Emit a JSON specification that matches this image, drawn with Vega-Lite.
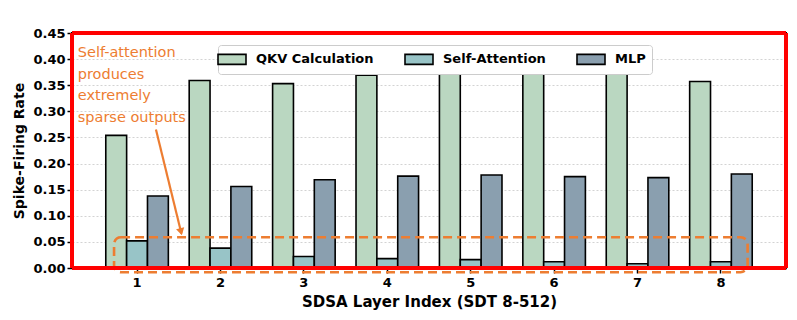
{
  "$schema": "https://vega.github.io/schema/vega-lite/v6.json",
  "width": 714,
  "height": 235,
  "autosize": {"type": "none"},
  "padding": {"left": 72, "top": 33, "right": 11, "bottom": 52},
  "background": "white",
  "config": {
    "font": "DejaVu Sans",
    "view": {"stroke": "black", "strokeWidth": 2},
    "axis": {
      "labelColor": "black",
      "labelFont": "DejaVu Sans",
      "labelFontWeight": "bold",
      "labelFontSize": 13,
      "titleFont": "DejaVu Sans",
      "titleFontWeight": "bold",
      "titleColor": "black",
      "tickColor": "black",
      "tickWidth": 1.5,
      "tickSize": 5,
      "domain": true,
      "domainColor": "black",
      "domainWidth": 2
    }
  },
  "datasets": {
    "bars": [
      {"layer": 1, "series": "QKV Calculation", "rate": 0.254},
      {"layer": 2, "series": "QKV Calculation", "rate": 0.359},
      {"layer": 3, "series": "QKV Calculation", "rate": 0.353},
      {"layer": 4, "series": "QKV Calculation", "rate": 0.369},
      {"layer": 5, "series": "QKV Calculation", "rate": 0.372},
      {"layer": 6, "series": "QKV Calculation", "rate": 0.375},
      {"layer": 7, "series": "QKV Calculation", "rate": 0.374},
      {"layer": 8, "series": "QKV Calculation", "rate": 0.357},
      {"layer": 1, "series": "Self-Attention", "rate": 0.052},
      {"layer": 2, "series": "Self-Attention", "rate": 0.038},
      {"layer": 3, "series": "Self-Attention", "rate": 0.022},
      {"layer": 4, "series": "Self-Attention", "rate": 0.018},
      {"layer": 5, "series": "Self-Attention", "rate": 0.016},
      {"layer": 6, "series": "Self-Attention", "rate": 0.012},
      {"layer": 7, "series": "Self-Attention", "rate": 0.008},
      {"layer": 8, "series": "Self-Attention", "rate": 0.012},
      {"layer": 1, "series": "MLP", "rate": 0.138},
      {"layer": 2, "series": "MLP", "rate": 0.156},
      {"layer": 3, "series": "MLP", "rate": 0.169},
      {"layer": 4, "series": "MLP", "rate": 0.176},
      {"layer": 5, "series": "MLP", "rate": 0.178},
      {"layer": 6, "series": "MLP", "rate": 0.175},
      {"layer": 7, "series": "MLP", "rate": 0.173},
      {"layer": 8, "series": "MLP", "rate": 0.180}
    ],
    "note": [
      {"line": "Self-attention", "x": 0.293, "rate": 0.4042},
      {"line": "produces", "x": 0.293, "rate": 0.3626},
      {"line": "extremely", "x": 0.293, "rate": 0.321},
      {"line": "sparse outputs", "x": 0.293, "rate": 0.2797}
    ],
    "box": [{"x0": 0.728, "x1": 8.32, "rate": -0.008, "rate2": 0.059}],
    "arrow": [{"x0": 1.23, "rate": 0.265, "x1": 1.535, "rate2": 0.066}],
    "head": [{"x": 1.53, "rate": 0.0695}],
    "frame": [
      {"x0": 0.224, "x1": 8.78, "rate": 0.45, "rate2": 0.45},
      {"x0": 8.78, "x1": 8.78, "rate": 0, "rate2": 0.45},
      {"x0": 0.224, "x1": 0.224, "rate": 0, "rate2": 0.45},
      {"x0": 0.224, "x1": 8.78, "rate": 0, "rate2": 0}
    ]
  },
  "encoding": {
    "y": {
      "field": "rate",
      "type": "quantitative",
      "scale": {"domain": [0, 0.45], "nice": false},
      "axis": {
        "title": "Spike-Firing Rate",
        "titleFontSize": 14,
        "titlePadding": 6,
        "values": [0, 0.05, 0.1, 0.15, 0.2, 0.25, 0.3, 0.35, 0.4, 0.45],
        "format": ".2f",
        "labelOverlap": false,
        "labelPadding": 2,
        "grid": true,
        "gridColor": "#c8c8c8",
        "gridDash": [2, 2],
        "gridWidth": 0.8
      }
    }
  },
  "layer": [
    {
      "data": {"name": "bars"},
      "mark": {"type": "bar", "stroke": "black", "strokeWidth": 1.6},
      "encoding": {
        "x": {
          "field": "layer",
          "type": "ordinal",
          "scale": {"paddingInner": 0.25, "paddingOuter": 0.405},
          "axis": {
            "title": "SDSA Layer Index (SDT 8-512)",
            "titleFontSize": 15,
            "titlePadding": 5,
            "labelAngle": 0,
            "labelPadding": 3,
            "grid": false
          }
        },
        "xOffset": {
          "field": "series",
          "type": "nominal",
          "sort": ["QKV Calculation", "Self-Attention", "MLP"],
          "scale": {"paddingInner": 0, "paddingOuter": 0}
        },
        "fill": {
          "field": "series",
          "type": "nominal",
          "scale": {
            "domain": ["QKV Calculation", "Self-Attention", "MLP"],
            "range": ["#bad7c1", "#98c4c7", "#8a9faf"]
          },
          "legend": {
            "title": null,
            "orient": "none",
            "legendX": 146,
            "legendY": 12,
            "direction": "horizontal",
            "symbolType": "M-2,-0.72L2,-0.72L2,0.72L-2,0.72Z",
            "symbolSize": 196,
            "symbolStrokeColor": "black",
            "symbolStrokeWidth": 1.6,
            "symbolOpacity": 1,
            "labelFont": "DejaVu Sans",
            "labelFontWeight": "bold",
            "labelFontSize": 13,
            "labelColor": "black",
            "labelOffset": 16,
            "columnPadding": 27,
            "padding": 6,
            "strokeColor": "#cccccc",
            "fillColor": "white",
            "cornerRadius": 3
          }
        }
      }
    },
    {
      "data": {"name": "box"},
      "mark": {"type": "rect", "fill": "transparent", "stroke": "#ed7d31", "strokeWidth": 2.6, "strokeDash": [9, 5], "cornerRadius": 7, "clip": false},
      "encoding": {
        "x": {"field": "x0", "type": "quantitative", "scale": {"domain": [0.224, 8.78], "nice": false, "zero": false}, "axis": null},
        "x2": {"field": "x1"},
        "y2": {"field": "rate2"}
      }
    },
    {
      "data": {"name": "arrow"},
      "mark": {"type": "rule", "stroke": "#ed7d31", "strokeWidth": 2.2},
      "encoding": {
        "x": {"field": "x0", "type": "quantitative", "scale": {"domain": [0.224, 8.78], "nice": false, "zero": false}, "axis": null},
        "x2": {"field": "x1"},
        "y2": {"field": "rate2"}
      }
    },
    {
      "data": {"name": "head"},
      "mark": {"type": "point", "shape": "triangle-down", "filled": true, "fill": "#ed7d31", "opacity": 1, "size": 70, "angle": -14},
      "encoding": {
        "x": {"field": "x", "type": "quantitative", "scale": {"domain": [0.224, 8.78], "nice": false, "zero": false}, "axis": null}
      }
    },
    {
      "data": {"name": "note"},
      "mark": {"type": "text", "align": "left", "baseline": "alphabetic", "font": "DejaVu Sans", "fontSize": 14.5, "color": "#ed7d31"},
      "encoding": {
        "x": {"field": "x", "type": "quantitative", "scale": {"domain": [0.224, 8.78], "nice": false, "zero": false}, "axis": null},
        "text": {"field": "line"}
      }
    },
    {
      "data": {"name": "frame"},
      "mark": {"type": "rule", "stroke": "red", "strokeWidth": 4, "clip": false},
      "encoding": {
        "x": {"field": "x0", "type": "quantitative", "scale": {"domain": [0.224, 8.78], "nice": false, "zero": false}, "axis": null},
        "x2": {"field": "x1"},
        "y2": {"field": "rate2"}
      }
    }
  ],
  "resolve": {"scale": {"x": "independent"}}
}
